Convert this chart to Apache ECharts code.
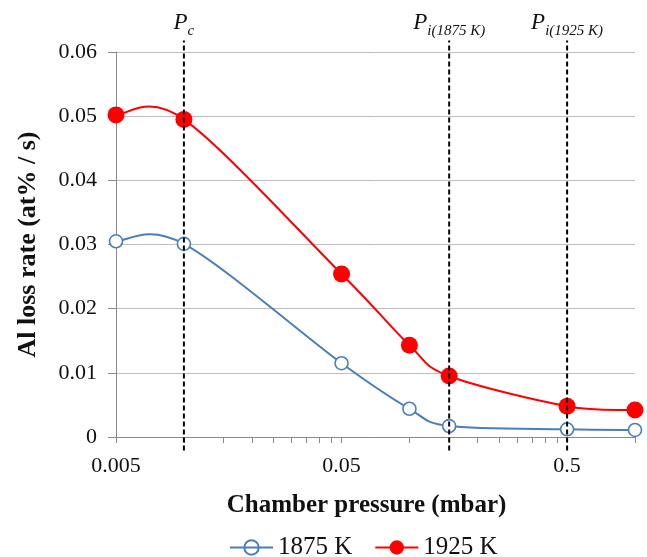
<!DOCTYPE html>
<html>
<head>
<meta charset="utf-8">
<script src="https://cdn.jsdelivr.net/npm/echarts@6/dist/echarts.min.js"></script>
<style>
html,body{margin:0;padding:0;background:#fff}
#main{width:647px;height:557px}
</style>
</head>
<body>
<div id="main"></div>
<script>
// chamber pressure (mbar)
var pressure = [0.005, 0.01, 0.05, 0.1, 0.15, 0.5, 1.0];
// Al loss rate (at% / s)
var rate1875 = [0.0305, 0.0301, 0.0115, 0.0044, 0.0017, 0.0012, 0.0011];
var rate1925 = [0.0502, 0.0495, 0.0254, 0.0143, 0.0095, 0.0048, 0.0042];

// axis labels / ticks
var xLabels = [0.005, 0.05, 0.5];
var xTicks = [0.005, 0.01, 0.015, 0.02, 0.025, 0.03, 0.035, 0.04, 0.045,
              0.05, 0.1, 0.15, 0.2, 0.25, 0.3, 0.35, 0.4, 0.45, 0.5, 1.0];

// vertical dashed markers
var markX = [0.01, 0.15, 0.5];
var markSub = ['c', 'i(1875 K)', 'i(1925 K)'];
var markSpan = [-0.0021, 0.0618];

var serif = 'Liberation Serif';
var blue = '#4a7ebb';
var red = '#ff0000';

function pairs(ys) {
    return pressure.map(function (p, i) { return [p, ys[i]]; });
}

// Excel 风格的平滑曲线 (Catmull-Rom -> bezier, 像素坐标里算)
function splineSeries(ys, color, z) {
    return {
        type: 'custom',
        silent: true,
        z: z,
        data: [[pressure[0], ys[0]]],
        renderItem: function (params, api) {
            var pts = pressure.map(function (p, i) { return api.coord([p, ys[i]]); });
            var n = pts.length, t = 1 / 6;
            var d = 'M' + pts[0][0] + ' ' + pts[0][1];
            for (var i = 0; i < n - 1; i++) {
                var p0 = pts[Math.max(i - 1, 0)], p1 = pts[i], p2 = pts[i + 1], p3 = pts[Math.min(i + 2, n - 1)];
                var c1x = p1[0] + (p2[0] - p0[0]) * t, c1y = p1[1] + (p2[1] - p0[1]) * t;
                var c2x = p2[0] - (p3[0] - p1[0]) * t, c2y = p2[1] - (p3[1] - p1[1]) * t;
                d += ' C' + c1x + ' ' + c1y + ' ' + c2x + ' ' + c2y + ' ' + p2[0] + ' ' + p2[1];
            }
            return {
                type: 'path',
                shape: {pathData: d},
                style: {fill: 'none', stroke: color, lineWidth: 2}
            };
        }
    };
}

var series = [
    splineSeries(rate1875, blue, 2),
    splineSeries(rate1925, red, 2),
    {
        name: '1875 K',
        type: 'line',
        data: pairs(rate1875),
        symbol: 'circle',
        symbolSize: 13,
        lineStyle: {color: blue, width: 2, opacity: 0},
        itemStyle: {color: '#fff', borderColor: blue, borderWidth: 1.6},
        z: 3
    },
    {
        name: '1925 K',
        type: 'line',
        data: pairs(rate1925),
        symbol: 'circle',
        symbolSize: 17,
        lineStyle: {color: red, width: 2, opacity: 0},
        itemStyle: {color: red},
        z: 4
    }
];

// 竖直虚线 + 顶部标注
markX.forEach(function (x, i) {
    series.push({
        name: 'mark' + i,
        type: 'line',
        clip: false,
        silent: true,
        symbol: 'circle',
        symbolSize: 0.1,
        lineStyle: {color: '#000', width: 2, type: [5, 3]},
        itemStyle: {color: '#000'},
        z: 6,
        data: [
            [x, markSpan[0]],
            {
                value: [x, markSpan[1]],
                label: {
                    show: true,
                    position: 'top',
                    distance: 2,
                    formatter: '{p|P}{s|' + markSub[i] + '}',
                    rich: {
                        p: {fontFamily: serif, fontStyle: 'italic', fontSize: 23, color: '#111'},
                        s: {fontFamily: serif, fontStyle: 'italic', fontSize: 15, color: '#111', padding: [16, 0, 0, 0]}
                    }
                }
            }
        ]
    });
});

var myChart = echarts.init(document.getElementById('main'));

var option = {
    animation: false,
    textStyle: {fontFamily: serif, color: '#111'},
    grid: {left: 116, right: 12, top: 52, bottom: 120},
    legend: {
        data: [
            {name: '1875 K', lineStyle: {opacity: 1, width: 2}, itemStyle: {color: 'rgba(255,255,255,0)'}},
            {name: '1925 K', lineStyle: {opacity: 1, width: 2}}
        ],
        left: 229,
        top: 535,
        padding: 0,
        itemWidth: 43,
        itemHeight: 18,
        itemGap: 22,
        textStyle: {fontFamily: serif, fontSize: 25, color: '#111'}
    },
    xAxis: {
        type: 'log',
        logBase: 10,
        min: 0.005,
        max: 1,
        name: 'Chamber pressure (mbar)',
        nameLocation: 'middle',
        nameGap: 56,
        nameTextStyle: {fontFamily: serif, fontSize: 25, fontWeight: 'bold', color: '#111', padding: [0, 18, 0, 0]},
        axisLine: {show: true, lineStyle: {color: '#888', width: 1}},
        axisTick: {show: true, customValues: xTicks, length: 6, lineStyle: {color: '#888'}},
        axisLabel: {
            customValues: xLabels,
            margin: 18,
            fontSize: 22,
            color: '#111',
            formatter: function (v) { return String(+(+v).toPrecision(3)); }
        },
        splitLine: {show: false}
    },
    yAxis: {
        type: 'value',
        min: 0,
        max: 0.06,
        interval: 0.01,
        name: 'Al loss rate (at% / s)',
        nameLocation: 'middle',
        nameGap: 75,
        nameTextStyle: {fontFamily: serif, fontSize: 26, fontWeight: 'bold', color: '#111'},
        axisLine: {show: true, lineStyle: {color: '#888', width: 1}},
        axisTick: {show: true, length: 8, lineStyle: {color: '#888'}},
        axisLabel: {margin: 19, fontSize: 22, color: '#111'},
        splitLine: {lineStyle: {color: '#bdbdbd', width: 1}}
    },
    series: series
};

myChart.setOption(option);
</script>
</body>
</html>
